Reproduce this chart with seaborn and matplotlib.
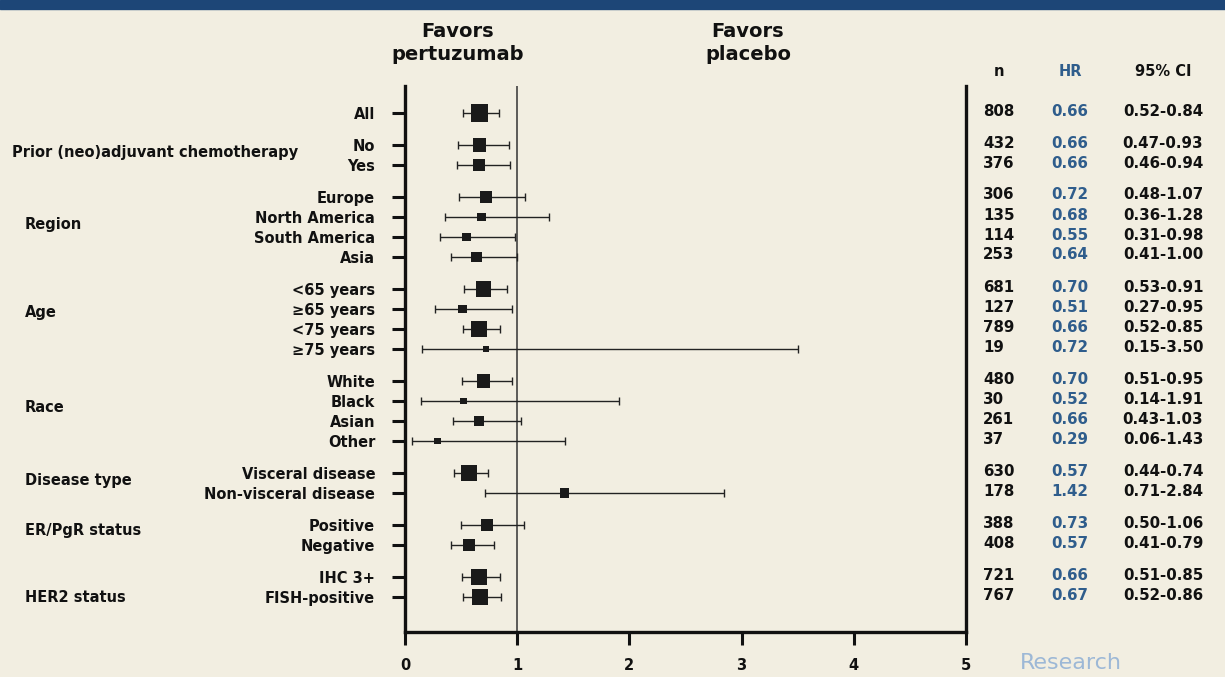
import numpy as np
import pandas as pd
import matplotlib.pyplot as plt
import seaborn as sns

# subgroup data
groups = ["", "Prior (neo)adjuvant chemotherapy", "Region", "Age", "Race",
          "Disease type", "ER/PgR status", "HER2 status"]
group_rows = [
    ["All"],
    ["No", "Yes"],
    ["Europe", "North America", "South America", "Asia"],
    ["<65 years", "\u226565 years", "<75 years", "\u226575 years"],
    ["White", "Black", "Asian", "Other"],
    ["Visceral disease", "Non-visceral disease"],
    ["Positive", "Negative"],
    ["IHC 3+", "FISH-positive"],
]
n = [808, 432, 376, 306, 135, 114, 253, 681, 127, 789, 19,
     480, 30, 261, 37, 630, 178, 388, 408, 721, 767]
hr = [0.66, 0.66, 0.66, 0.72, 0.68, 0.55, 0.64, 0.70, 0.51, 0.66, 0.72,
      0.70, 0.52, 0.66, 0.29, 0.57, 1.42, 0.73, 0.57, 0.66, 0.67]
ci_lo = [0.52, 0.47, 0.46, 0.48, 0.36, 0.31, 0.41, 0.53, 0.27, 0.52, 0.15,
         0.51, 0.14, 0.43, 0.06, 0.44, 0.71, 0.50, 0.41, 0.51, 0.52]
ci_hi = [0.84, 0.93, 0.94, 1.07, 1.28, 0.98, 1.00, 0.91, 0.95, 0.85, 3.50,
         0.95, 1.91, 1.03, 1.43, 0.74, 2.84, 1.06, 0.79, 0.85, 0.86]

# vertical layout (pixel rows): 20 px inside a group, 32 px between groups
ypos, labels, group_y = [], [], []
y = 113
for gi, rows in enumerate(group_rows):
    if gi > 0:
        y += 32
    ys = []
    for j, r in enumerate(rows):
        if j > 0:
            y += 20
        ys.append(y)
        labels.append(r)
    ypos.extend(ys)
    group_y.append(np.mean(ys))
group_nudge = [0, -3, -2, -7, -4, -3, -4, 10]

df = pd.DataFrame({"label": labels, "n": n, "hr": hr, "lo": ci_lo, "hi": ci_hi, "y": ypos})

bg = "#f2eee1"
ink = "#111111"
sns.set_style("white")
plt.rcParams["font.family"] = ["DejaVu Sans"]
plt.rcParams["font.weight"] = "bold"
plt.rcParams["text.color"] = ink
plt.rcParams["xtick.color"] = ink
plt.rcParams["ytick.color"] = ink

W, H = 1225, 677
fig = plt.figure(figsize=(W / 100, H / 100), dpi=100, facecolor=bg)
ax = fig.add_axes([405 / W, 1 - 632 / H, (966 - 405) / W, (632 - 86) / H])
ax.set_facecolor(bg)

# top banner
fig.patches.append(plt.Rectangle((0, 1 - 9 / H), 1, 9 / H, transform=fig.transFigure,
                                 color="#1d4677", zorder=5))

ax.axvline(1, color="#333333", lw=1.1, zorder=1)
ax.errorbar(df["hr"], df["y"], xerr=[df["hr"] - df["lo"], df["hi"] - df["hr"]],
            fmt="none", ecolor="#222222", elinewidth=1.0, capsize=3, capthick=1.0, zorder=2)
sns.scatterplot(data=df, x="hr", y="y", size="n", sizes=(22, 150), size_norm=(19, 808),
                marker="s", color="#1a1a1a", edgecolor="none", legend=False, ax=ax, zorder=3)

ax.set_xlim(0, 5)
ax.set_ylim(632, 86)
ax.set_xticks(range(6))
ax.set_xticklabels([str(i) for i in range(6)], fontsize=10.5, fontweight="bold")
ax.set_yticks(df["y"])
ax.set_yticklabels(df["label"], fontsize=10.5, fontweight="bold")
ax.tick_params(axis="y", length=9.5, width=2.2, pad=12, direction="out", left=True)
ax.tick_params(axis="x", length=9, width=2.2, pad=10, direction="out", bottom=True)
ax.set_xlabel("")
ax.set_ylabel("")
for s in ["left", "bottom", "right"]:
    ax.spines[s].set_visible(True)
    ax.spines[s].set_linewidth(2.4)
    ax.spines[s].set_color(ink)
ax.spines["top"].set_visible(False)
ax.grid(False)

# group labels
for g, gy, dy in zip(groups, group_y, group_nudge):
    if not g:
        continue
    gx = 12 if g.startswith("Prior") else 25
    fig.text(gx / W, 1 - (gy + dy) / H, g, fontsize=10.5, fontweight="bold", va="center", ha="left")

# headers
fig.text(458 / W, 1 - 43 / H, "Favors\npertuzumab", fontsize=14, fontweight="bold",
         ha="center", va="center", linespacing=1.25)
fig.text(748 / W, 1 - 43 / H, "Favors\nplacebo", fontsize=14, fontweight="bold",
         ha="center", va="center", linespacing=1.25)

blue = "#2f5d8c"
fig.text(999 / W, 1 - 72 / H, "n", fontsize=10.5, fontweight="bold", ha="center", va="center")
fig.text(1070 / W, 1 - 72 / H, "HR", fontsize=10.5, fontweight="bold", ha="center", va="center", color=blue)
fig.text(1163 / W, 1 - 72 / H, "95% CI", fontsize=10.5, fontweight="bold", ha="center", va="center")
for _, r in df.iterrows():
    ty = 1 - (r["y"] - 2) / H
    fig.text(983 / W, ty, f"{r['n']}", fontsize=10.8, fontweight="bold", ha="left", va="center")
    fig.text(1070 / W, ty, f"{r['hr']:.2f}", fontsize=10.8, fontweight="bold", ha="center",
             va="center", color=blue)
    fig.text(1163 / W, ty, f"{r['lo']:.2f}-{r['hi']:.2f}", fontsize=10.8, fontweight="bold",
             ha="center", va="center")

fig.text(1020 / W, 1 - 653 / H, "Research", fontsize=16, fontweight="normal", color="#9db8d6",
         ha="left", va="top")

fig.savefig("out.png", dpi=100, facecolor=bg)
